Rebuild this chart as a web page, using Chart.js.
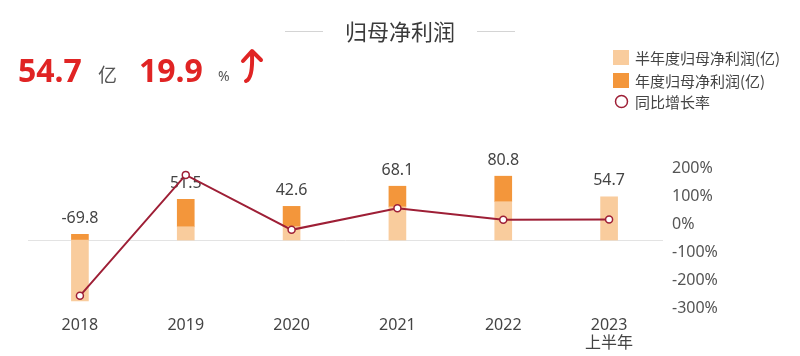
<!DOCTYPE html>
<html>
<head>
<meta charset="utf-8">
<script src="https://cdn.jsdelivr.net/npm/chart.js@4"></script>
<style>
  html, body { margin: 0; padding: 0; background: #ffffff; }
  #wrap { position: relative; width: 800px; height: 356px; overflow: hidden;
          font-family: "Noto Sans", "Noto Sans CJK SC", sans-serif; }
  #c { position: absolute; left: 0; top: 0; }
  .abs { position: absolute; white-space: nowrap; }
  .hl { position: absolute; height: 1px; background: #d4d4d4; }
  .big { color: #e02424; font-weight: 700; font-size: 32px; line-height: 32px; }
  .unit { color: #555; font-size: 19px; line-height: 19px; }
  .leg { position: absolute; left: 613px; width: 187px; height: 16px; white-space: nowrap; font-size: 15px; line-height: 15px; color: #444; font-family: "Noto Sans CJK SC", sans-serif; }
  .leg span { position: absolute; left: 22px; top: 0; white-space: nowrap; }
  .sw { position: absolute; width: 16px; height: 15px; left: 0; top: 0; }
</style>
</head>
<body>
<div id="wrap">
  <canvas id="c" width="800" height="356"></canvas>

  <div class="hl" style="left:285px; top:31px; width:38px;"></div>
  <div class="hl" style="left:477px; top:31px; width:38px;"></div>
  <div class="abs" id="title" style="left:345px; top:19px; font-size:22px; line-height:22px; color:#3a3a3a; font-family:'Noto Sans CJK SC',sans-serif;">归母净利润</div>

  <div class="abs big" id="v1" style="left:18px; top:54px;"></div>
  <div class="abs unit" style="left:98px; top:64px; font-family:'Noto Sans CJK SC',sans-serif;">亿</div>
  <div class="abs big" id="v2" style="left:139px; top:54px;"></div>
  <div class="abs" style="left:218px; top:69px; font-size:14px; line-height:14px; color:#555;">%</div>
  <svg class="abs" style="left:238px; top:46px;" width="30" height="40" viewBox="0 0 30 40">
    <path d="M8 35 Q15 32 14 8" fill="none" stroke="#e02424" stroke-width="4" stroke-linecap="round"/>
    <path d="M5 15 L14 5 L23 14" fill="none" stroke="#e02424" stroke-width="4" stroke-linecap="round" stroke-linejoin="round"/>
  </svg>

  <div class="leg" style="top:50px;"><div class="sw" style="background:#f9cc9d;"></div><span id="l1"></span></div>
  <div class="leg" style="top:73px;"><div class="sw" style="background:#f3963b;"></div><span id="l2"></span></div>
  <div class="leg" style="top:94px;"><svg style="position:absolute;left:1px;top:0;" width="15" height="15"><circle cx="7.5" cy="7.5" r="6" fill="#fff" stroke="#9e1f36" stroke-width="1.5"/></svg><span id="l3"></span></div>
</div>
<script>
// ---- data ----
const categories = [['2018'], ['2019'], ['2020'], ['2021'], ['2022'], ['2023', '上半年']];
const halfYearProfit = [-77, 16.8, 17, 42, 48.5, 54.7];      // 半年度归母净利润(亿)
const annualProfit   = [-69.8, 51.5, 42.6, 68.1, 80.8, null]; // 年度归母净利润(亿)
const yoyGrowth      = [-253, 179, -17.3, 59.9, 18.6, 19.9];  // 同比增长率 (%)
const barLabels      = ['-69.8', '51.5', '42.6', '68.1', '80.8', '54.7'];
const rightTicks     = [200, 100, 0, -100, -200, -300];
const seriesNames    = ['半年度归母净利润(亿)', '年度归母净利润(亿)', '同比增长率'];
const headline       = { profit: '54.7', growth: '19.9' };

document.getElementById('v1').textContent = headline.profit;
document.getElementById('v2').textContent = headline.growth;
document.getElementById('l1').textContent = seriesNames[0];
document.getElementById('l2').textContent = seriesNames[1];
document.getElementById('l3').textContent = seriesNames[2];

// annual bar drawn as the part stacked on top of the half-year bar
const annualRemainder = annualProfit.map((v, i) => v === null ? null : +(v - halfYearProfit[i]).toFixed(2));

const zeroLine = {
  id: 'zeroLine',
  beforeDatasetsDraw(chart) {
    const { ctx, chartArea } = chart;
    const y = Math.round(chart.scales.y.getPixelForValue(0)) + 0.5;
    ctx.save();
    ctx.strokeStyle = '#e3e3e3';
    ctx.lineWidth = 1;
    ctx.beginPath();
    ctx.moveTo(chartArea.left + 1, y);
    ctx.lineTo(chartArea.right + 1, y);
    ctx.stroke();
    ctx.restore();
  }
};

const barValueLabels = {
  id: 'barValueLabels',
  afterDatasetDraw(chart, args) {
    if (args.index !== 1) return;
    const { ctx } = chart;
    const m0 = chart.getDatasetMeta(0), m1 = chart.getDatasetMeta(1);
    const y0 = chart.scales.y.getPixelForValue(0);
    ctx.save();
    ctx.font = '16px "Noto Sans", sans-serif';
    ctx.fillStyle = '#444';
    ctx.textAlign = 'center';
    ctx.textBaseline = 'middle';
    barLabels.forEach((t, i) => {
      let top = y0;
      [m0, m1].forEach(m => {
        const el = m.data[i];
        if (el && !isNaN(el.y)) top = Math.min(top, el.y);
      });
      ctx.fillText(t, m0.data[i].x, top - 16);
    });
    ctx.restore();
  }
};

new Chart(document.getElementById('c'), {
  type: 'bar',
  data: {
    labels: categories,
    datasets: [
      { label: seriesNames[0], data: halfYearProfit, backgroundColor: '#f9cc9d', barThickness: 17, yAxisID: 'y', order: 2 },
      { label: seriesNames[1], data: annualRemainder, backgroundColor: '#f3963b', barThickness: 17, yAxisID: 'y', order: 2 },
      { type: 'line', label: seriesNames[2], data: yoyGrowth, yAxisID: 'y2', order: 0,
        borderColor: '#9e1f36', borderWidth: 2, tension: 0,
        pointRadius: 3.5, pointBackgroundColor: '#ffffff', pointBorderColor: '#9e1f36', pointBorderWidth: 1.5 }
    ]
  },
  options: {
    responsive: false,
    animation: false,
    layout: { padding: { left: 27, right: 0, top: 169, bottom: 0 } },
    plugins: { legend: { display: false }, tooltip: { enabled: false } },
    scales: {
      x: {
        stacked: true,
        grid: { display: false, drawTicks: false },
        border: { display: false },
        ticks: { color: '#444', font: { size: 16, family: '"Noto Sans", "Noto Sans CJK SC", sans-serif', lineHeight: 1.1 }, padding: 8, maxRotation: 0 },
        afterFit(s) { s.height = 47; }
      },
      y: {
        display: false, stacked: true, min: -87.3, max: 89.9
      },
      y2: {
        position: 'right', min: rightTicks[rightTicks.length - 1], max: rightTicks[0],
        grid: { display: false, drawTicks: false },
        border: { display: false },
        afterBuildTicks(s) { s.ticks = rightTicks.map(v => ({ value: v })); },
        ticks: { color: '#555', font: { size: 16, family: '"Noto Sans", sans-serif' }, padding: 10, labelOffset: -1,
                 callback: v => v + '%' },
        afterFit(s) { s.width = 138; }
      }
    }
  },
  plugins: [zeroLine, barValueLabels]
});
</script>
</body>
</html>
